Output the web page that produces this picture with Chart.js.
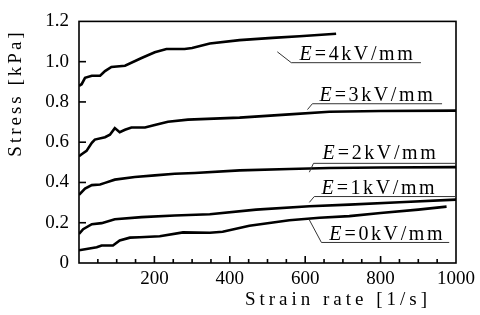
<!DOCTYPE html>
<html>
<head>
<meta charset="utf-8">
<script src="https://cdn.jsdelivr.net/npm/chart.js@4/dist/chart.umd.min.js"></script>
<style>
  html, body { margin: 0; padding: 0; background: #fff; }
  #wrap { width: 480px; height: 315px; }
</style>
</head>
<body>
<div id="wrap"><canvas id="chart" width="480" height="315"></canvas></div>
<script>
// stress vs strain rate for five field strengths
const e0x = [0, 20, 47, 60, 90, 108, 135, 161, 214, 276, 347, 381, 452, 558, 638, 717, 800, 900, 975];
const e0y = [0.063, 0.07, 0.078, 0.087, 0.087, 0.112, 0.126, 0.128, 0.133, 0.152, 0.15, 0.155, 0.185, 0.212, 0.225, 0.233, 0.248, 0.265, 0.28];

const e1x = [0, 11, 34, 60, 95, 166, 254, 347, 470, 611, 717, 850, 1000];
const e1y = [0.144, 0.168, 0.193, 0.198, 0.217, 0.228, 0.236, 0.242, 0.265, 0.282, 0.29, 0.302, 0.315];

const e2x = [0, 16, 34, 56, 69, 95, 148, 201, 254, 307, 426, 558, 664, 800, 1000];
const e2y = [0.338, 0.37, 0.387, 0.39, 0.398, 0.414, 0.427, 0.435, 0.443, 0.447, 0.46, 0.467, 0.472, 0.474, 0.476];

const e3x = [0, 7, 20, 34, 42, 69, 82, 95, 108, 122, 139, 175, 201, 236, 289, 426, 558, 664, 800, 1000];
const e3y = [0.53, 0.54, 0.557, 0.597, 0.613, 0.625, 0.637, 0.67, 0.65, 0.662, 0.673, 0.673, 0.686, 0.702, 0.712, 0.722, 0.738, 0.751, 0.755, 0.757];

const e4x = [0, 7, 16, 34, 56, 69, 86, 122, 166, 201, 232, 280, 300, 347, 426, 513, 585, 682];
const e4y = [0.88, 0.888, 0.92, 0.93, 0.93, 0.953, 0.974, 0.98, 1.018, 1.047, 1.063, 1.063, 1.068, 1.09, 1.107, 1.118, 1.126, 1.139];

const seriesNames = ["E=0kV/mm", "E=1kV/mm", "E=2kV/mm", "E=3kV/mm", "E=4kV/mm"];
const yTitle = "Stress [kPa]";
const xTitle = "Strain rate [1/s]";

// label callouts, in data units: text start, baseline, underline y/end, leader start
const callouts = [
  { name: "4kV/mm", tx: 585, ty: 1.01, uy: 0.995, ux0: 563, ux1: 907, lx: 526, ly: 1.049 },
  { name: "3kV/mm", tx: 638, ty: 0.806, uy: 0.791, ux0: 619, ux1: 963, lx: 606, ly: 0.762 },
  { name: "2kV/mm", tx: 646, ty: 0.519, uy: 0.495, ux0: 622, ux1: 1000, lx: 611, ly: 0.451 },
  { name: "1kV/mm", tx: 643, ty: 0.345, uy: 0.33, ux0: 624, ux1: 1000, lx: 611, ly: 0.301 },
  { name: "0kV/mm", tx: 664, ty: 0.116, uy: 0.102, ux0: 643, ux1: 982, lx: 611, ly: 0.214 },
];

const toPts = (xs, ys) => xs.map((x, i) => ({ x: x, y: ys[i] }));
const allX = [e0x, e1x, e2x, e3x, e4x];
const allY = [e0y, e1y, e2y, e3y, e4y];

const serif = "'Liberation Serif', 'DejaVu Serif', serif";

const decor = {
  id: "decor",
  afterDraw(chart) {
    const ctx = chart.ctx;
    const a = chart.chartArea;
    const xs = chart.scales.x;
    const ys = chart.scales.y;
    ctx.save();
    ctx.strokeStyle = "#000";
    ctx.fillStyle = "#000";
    ctx.lineWidth = 1.6;
    ctx.strokeRect(a.left, a.top, a.right - a.left, a.bottom - a.top);

    // inward ticks
    for (let v = 50; v < 1000; v += 50) {
      const p = xs.getPixelForValue(v);
      const len = v % 200 === 0 ? 7 : 4;
      ctx.fillRect(p - 0.8, a.bottom - len, 1.6, len);
    }
    for (let i = 1; i < 6; i++) {
      const p = ys.getPixelForValue(i * 0.2);
      ctx.fillRect(a.left, p - 0.8, 7, 1.6);
    }

    // callouts
    ctx.lineWidth = 1;
    ctx.strokeStyle = "#333";
    ctx.textBaseline = "alphabetic";
    ctx.textAlign = "left";
    callouts.forEach((c) => {
      const uy = ys.getPixelForValue(c.uy);
      ctx.beginPath();
      ctx.moveTo(xs.getPixelForValue(c.lx), ys.getPixelForValue(c.ly));
      ctx.lineTo(xs.getPixelForValue(c.ux0), uy);
      ctx.lineTo(xs.getPixelForValue(c.ux1), uy);
      ctx.stroke();
      let x = xs.getPixelForValue(c.tx);
      const y = ys.getPixelForValue(c.ty);
      ctx.letterSpacing = "2px";
      ctx.font = "italic 20px " + serif;
      ctx.fillText("E", x, y);
      x += ctx.measureText("E").width + 1;
      ctx.font = "20px " + serif;
      ctx.letterSpacing = "2.6px";
      ctx.fillText("=" + c.name, x, y);
    });

    // axis titles
    ctx.font = "19px " + serif;
    ctx.letterSpacing = "4px";
    ctx.textAlign = "center";
    ctx.fillText(xTitle, 338, 305);
    ctx.save();
    ctx.translate(21, 93);
    ctx.rotate(-Math.PI / 2);
    ctx.letterSpacing = "3px";
    ctx.fillText(yTitle, 0, 0);
    ctx.restore();
    ctx.restore();
  },
};

new Chart(document.getElementById("chart"), {
  type: "line",
  data: {
    datasets: allX.map((xs, i) => ({
      label: seriesNames[i],
      data: toPts(xs, allY[i]),
      borderColor: "#000",
      borderWidth: 2.6,
      pointRadius: 0,
      tension: 0,
      fill: false,
    })),
  },
  options: {
    responsive: false,
    animation: false,
    layout: { padding: { top: 16, right: 23, left: 0, bottom: 0 } },
    plugins: { legend: { display: false }, tooltip: { enabled: false } },
    scales: {
      x: {
        type: "linear",
        min: 0,
        max: 1000,
        border: { display: false },
        grid: { display: false, drawTicks: false },
        afterFit: (s) => { s.height = 52; },
        ticks: {
          stepSize: 200,
          padding: 5,
          color: "#000",
          font: { family: serif, size: 19 },
          maxRotation: 0,
          callback: (v) => (v === 0 ? "" : String(v)),
        },
      },
      y: {
        min: 0,
        max: 1.2,
        border: { display: false },
        grid: { display: false, drawTicks: false },
        afterFit: (s) => { s.width = 79; },
        ticks: {
          stepSize: 0.2,
          padding: 10,
          color: "#000",
          font: { family: serif, size: 19 },
          callback: (v) => (v === 0 ? "0" : v.toFixed(1)),
        },
      },
    },
  },
  plugins: [decor],
});
</script>
</body>
</html>
